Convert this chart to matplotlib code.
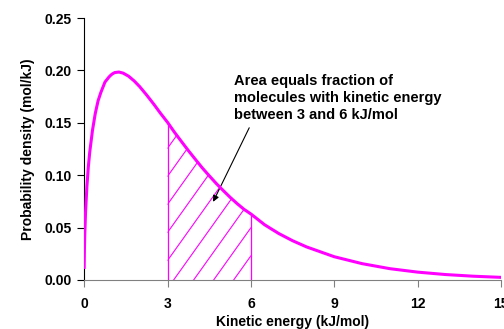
import numpy as np
import matplotlib
matplotlib.use("Agg")
import matplotlib.pyplot as plt

# ── data ─────────────────────────────────────────────────────
energy = [0.0, 0.01, 0.02, 0.05, 0.1, 0.15, 0.2, 0.3, 0.4, 0.5, 0.6, 0.75,
          0.9, 1.0, 1.1, 1.25, 1.4, 1.6, 1.8, 2.0, 2.25, 2.5, 2.75,
          3.0, 3.25, 3.5, 3.75, 4.0, 4.25, 4.5, 4.75, 5.0, 5.25, 5.5, 5.75, 6.0,
          6.5, 7.0, 7.5, 8.0, 9.0, 10.0, 11.0, 12.0, 13.0, 14.0, 15.0]
density = [0.012, 0.030, 0.042, 0.065, 0.090, 0.108, 0.122, 0.143, 0.159, 0.171, 0.179, 0.189,
           0.194, 0.1965, 0.198, 0.1985, 0.1975, 0.1945, 0.190, 0.1845, 0.1765, 0.168, 0.159,
           0.1505, 0.141, 0.1322, 0.1235, 0.1152, 0.107, 0.0995, 0.0922, 0.0855, 0.079, 0.073, 0.0675, 0.063,
           0.0526, 0.0444, 0.0375, 0.0316, 0.0222, 0.0156, 0.0108, 0.0075, 0.0052, 0.0036, 0.0025]
band_lo, band_hi = 3.0, 6.0
x_ticks = [0, 3, 6, 9, 12, 15]
y_ticks = [0.00, 0.05, 0.10, 0.15, 0.20, 0.25]
note = "Area equals fraction of\nmolecules with kinetic energy\nbetween 3 and 6 kJ/mol"

MAG = '#ff00ff'
plt.rcParams['font.family'] = ['Liberation Sans', 'DejaVu Sans']
plt.rcParams['font.weight'] = 'bold'

fig = plt.figure(figsize=(5.04, 3.29), dpi=100)
ax = fig.add_axes([0.167, 0.149, 0.827, 0.796])

E = np.array(energy)
D = np.array(density)
ax.plot(E, D, color=MAG, lw=2.2, solid_joinstyle='round', zorder=4)

# shaded band 3..6 kJ/mol, hatched with sparse diagonal lines
band = (E >= band_lo) & (E <= band_hi)
poly = ax.fill_between(E[band], D[band], color='none', lw=0)
clip = poly.get_paths()[0]
slope, step = 0.0372, 0.72
for c in np.arange(-1.1, band_hi, step):
    xs = np.array([band_lo, band_hi])
    ln, = ax.plot(xs, slope * (xs - c), color=MAG, lw=0.8, zorder=3)
    ln.set_clip_path(clip, ax.transData)
ax.vlines([band_lo, band_hi], 0, [D[E == band_lo][0], D[E == band_hi][0]],
          color=MAG, lw=0.9, zorder=3)

ax.set_xlim(0, 15)
ax.set_ylim(0, 0.25)
ax.set_xticks(x_ticks)
ax.set_yticks(y_ticks)
ax.set_xticklabels([str(t) for t in x_ticks])
ax.set_yticklabels([f'{t:.2f}' for t in y_ticks])

for s in ['top', 'right']:
    ax.spines[s].set_visible(False)
ax.spines['bottom'].set_color('#808080')
ax.spines['left'].set_color('black')
ax.tick_params(axis='x', direction='out', length=5, color='#808080',
               labelsize=10, pad=7)
ax.tick_params(axis='y', direction='out', length=5, color='black',
               labelsize=10, pad=4)
ax.set_xlabel('Kinetic energy (kJ/mol)', fontsize=10, fontweight='bold', labelpad=3)
ax.set_ylabel('Probability density (mol/kJ)', fontsize=10, fontweight='bold', labelpad=7)

ax.text(5.40, 0.197, note, fontsize=10.5, fontweight='bold', va='top', ha='left',
        linespacing=1.3)
ax.annotate('', xy=(4.64, 0.0746), xytext=(5.94, 0.1453),
            arrowprops=dict(arrowstyle='-|>', color='black', lw=0.8,
                            mutation_scale=9, shrinkA=0, shrinkB=0))

fig.savefig('out.png', dpi=100)
